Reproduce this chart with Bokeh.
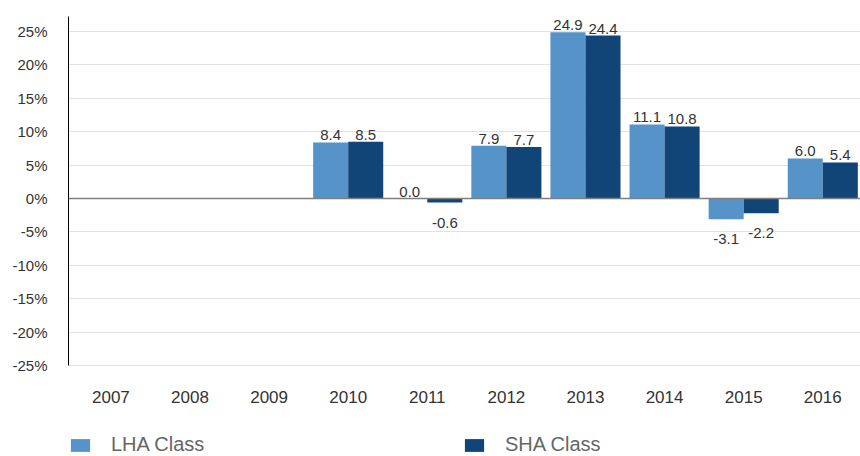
from bokeh.plotting import figure
from bokeh.models import ColumnDataSource, Range1d, FixedTicker, Span, Legend, LegendItem
from bokeh.transform import dodge
from bokeh.core.properties import value
from bokeh.embed import file_html
from bokeh.resources import INLINE

years = [2007, 2008, 2009, 2010, 2011, 2012, 2013, 2014, 2015, 2016]
bar_years = [2010, 2011, 2012, 2013, 2014, 2015, 2016]
lha = [8.4, 0.0, 7.9, 24.9, 11.1, -3.1, 6.0]
sha = [8.5, -0.6, 7.7, 24.4, 10.8, -2.2, 5.4]
y_ticks = [-25, -20, -15, -10, -5, 0, 5, 10, 15, 20, 25]
y_tick_labels = [f"{t}%" for t in y_ticks]
series_names = ["LHA Class", "SHA Class"]

LHA_COLOR = "#5593c9"
SHA_COLOR = "#114577"
FONT = "Liberation Sans"

Y_MIN, Y_MAX = -25, 27.25

def offsets(vals):
    return [-7 if v >= 0 else 20 for v in vals]

src = ColumnDataSource(dict(
    x=bar_years, lha=lha, sha=sha,
    lha_txt=[f"{v:.1f}" for v in lha], sha_txt=[f"{v:.1f}" for v in sha],
    lha_off=offsets(lha), sha_off=offsets(sha),
))
year_src = ColumnDataSource(dict(x=years, y=[Y_MIN] * len(years), txt=[str(y) for y in years]))

p = figure(frame_width=792, frame_height=440,
           x_range=Range1d(2006.464, 2016.477),
           y_range=Range1d(-38.62, Y_MAX),
           x_axis_location=None,
           output_backend="svg", toolbar_location=None,
           min_border_left=68, min_border_right=0, min_border_top=16, min_border_bottom=0)
p.outline_line_color = None
p.background_fill_color = "white"
p.border_fill_color = "white"

bw = 0.443
r1 = p.vbar(x=dodge("x", -bw / 2, range=p.x_range), top="lha", bottom=0, width=bw, source=src,
            fill_color=LHA_COLOR, line_color=None)
r2 = p.vbar(x=dodge("x", bw / 2, range=p.x_range), top="sha", bottom=0, width=bw, source=src,
            fill_color=SHA_COLOR, line_color=None)

p.text(x=dodge("x", -bw / 2, range=p.x_range), y="lha", text="lha_txt", y_offset="lha_off", source=src,
       text_align="center", text_baseline="alphabetic", text_font=value(FONT),
       text_font_size="15px", text_color="#333333")
p.text(x=dodge("x", bw / 2, range=p.x_range), y="sha", text="sha_txt", y_offset="sha_off", source=src,
       text_align="center", text_baseline="alphabetic", text_font=value(FONT),
       text_font_size="15px", text_color="#333333")

# category (year) labels under the plotting area
p.text(x="x", y="y", text="txt", source=year_src, y_offset=31,
       text_align="center", text_baseline="alphabetic", text_font=value(FONT),
       text_font_size="17px", text_color="#333333")

p.add_layout(Span(location=0, dimension="width", line_color="#7f7f7f", line_width=1.5))

p.xgrid.grid_line_color = None
p.ygrid.ticker = FixedTicker(ticks=y_ticks)
p.ygrid.grid_line_color = "#e2e2e2"
p.ygrid.grid_line_width = 1

ya = p.yaxis[0]
ya.bounds = (Y_MIN, Y_MAX)
ya.ticker = FixedTicker(ticks=y_ticks)
ya.major_label_overrides = {t: l for t, l in zip(y_ticks, y_tick_labels)}
ya.major_tick_line_color = None
ya.minor_tick_line_color = None
ya.axis_line_color = "black"
ya.axis_line_width = 1
ya.major_label_standoff = 15
ya.major_label_text_font = FONT
ya.major_label_text_font_size = "15px"
ya.major_label_text_color = "#333333"

legend = Legend(items=[LegendItem(label=series_names[0], renderers=[r1]),
                       LegendItem(label=series_names[1], renderers=[r2])],
                orientation="horizontal", location=(0, 0),
                glyph_width=24, glyph_height=16, label_standoff=19,
                spacing=10, label_width=341, padding=0, margin=0,
                border_line_color=None, background_fill_alpha=0,
                label_text_font=FONT, label_text_font_size="20px",
                label_text_color="#666666")
p.add_layout(legend)

open("out.html", "w").write(file_html(p, INLINE))
